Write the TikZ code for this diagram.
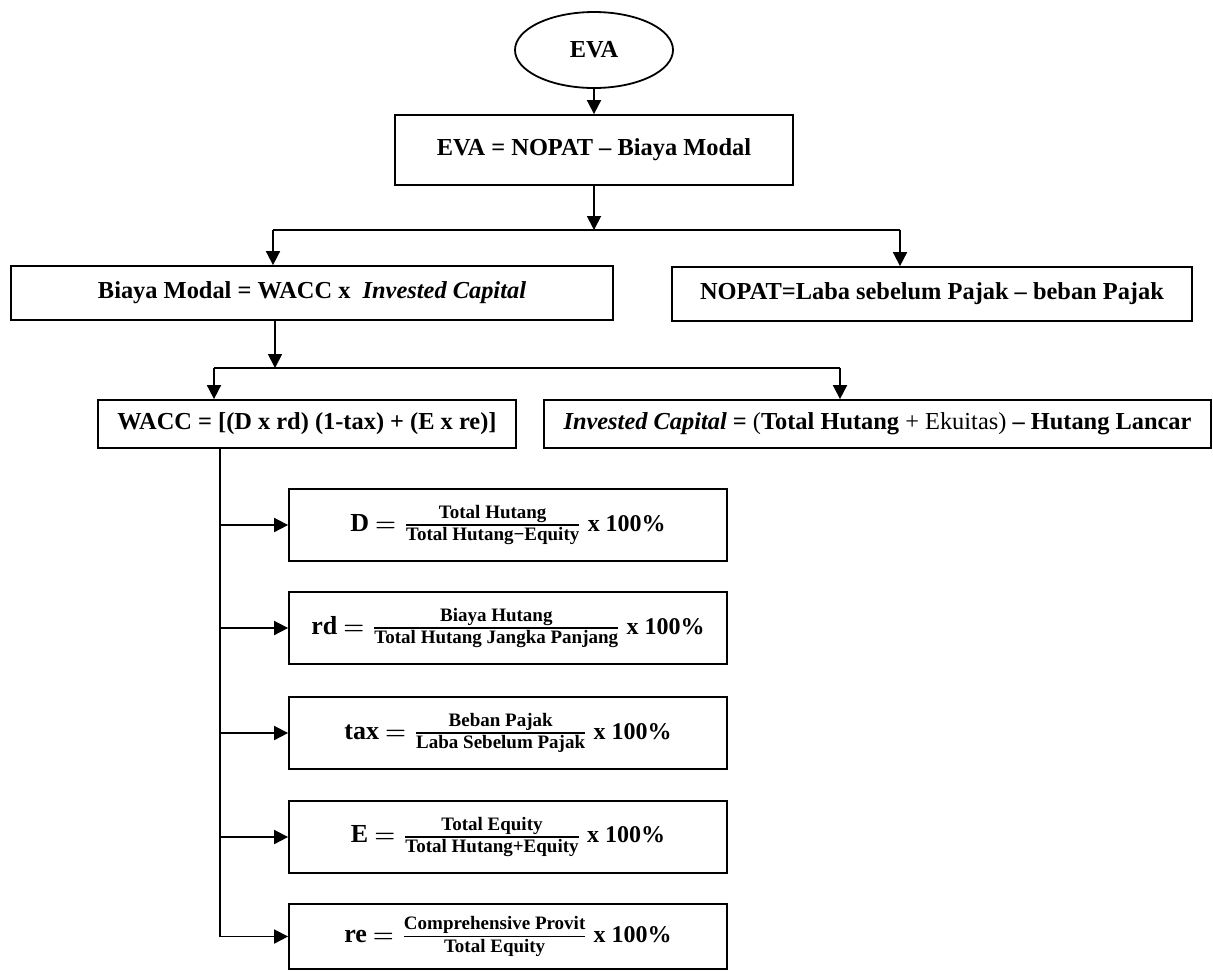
\documentclass[tikz,border=0pt]{standalone}
\usepackage{amsmath}
\usepackage{fontspec}
\setmainfont{Liberation Serif}
\usetikzlibrary{shapes.geometric,arrows.meta}
\newcommand{\frtext}[1]{\mbox{\fontsize{9.5}{11}\selectfont\bfseries #1}}
\newcommand{\ratio}[3]{{\fontsize{13}{15}\selectfont #1} $= \genfrac{}{}{0.9pt}{}{\frtext{#2}}{\frtext{#3}}$ x 100\%}
\begin{document}
\begin{tikzpicture}[x=0.5pt,y=-0.5pt,
  box/.style={draw,line width=0.9pt,inner sep=0pt,font=\fontsize{12.2}{15}\selectfont\bfseries},
  formbox/.style={box,minimum width=219pt,minimum height=36pt,font=\fontsize{12}{15}\selectfont\bfseries\boldmath},
  arr/.style={line width=0.9pt,-{Triangle[length=7pt,width=7pt]}},
  link/.style={line width=0.9pt}]
\useasboundingbox (0,0) rectangle (1213,971);
% top of the chart
\node[box,ellipse,minimum width=79pt,minimum height=38pt] (eva) at (594,50) {EVA};
\node[box,minimum width=199pt,minimum height=35pt] (evabox) at (594,150) {EVA = NOPAT – Biaya Modal};
\node[box,minimum width=301pt,minimum height=27pt] (biaya) at (312,293) {Biaya Modal = WACC x \ \textit{Invested Capital}};
\node[box,minimum width=260pt,minimum height=27pt] (nopat) at (932,294) {NOPAT=Laba sebelum Pajak – beban Pajak};
\node[box,minimum width=209pt,minimum height=24pt] (wacc) at (307,424) {WACC = [(D x rd) (1-tax) + (E x re)]};
\node[box,minimum width=333.5pt,minimum height=24pt] (invcap) at (877.5,424) {\textit{Invested Capital} = {\mdseries(}Total Hutang {\mdseries + Ekuitas)} – Hutang Lancar};
% formula boxes
\node[formbox] (fd) at (508,525) {\ratio{D}{Total Hutang}{Total Hutang−Equity}};
\node[formbox] (frd) at (508,628) {\ratio{rd}{Biaya Hutang}{Total Hutang Jangka Panjang}};
\node[formbox] (ftax) at (508,733) {\ratio{tax}{Beban Pajak}{Laba Sebelum Pajak}};
\node[formbox] (fe) at (508,837) {\ratio{E}{Total Equity}{Total Hutang+Equity}};
\node[formbox,minimum height=32.5pt] (fre) at (508,936.5) {\ratio{re}{Comprehensive Provit}{Total Equity}};
% connectors
\coordinate (s1l) at (273,230);
\coordinate (s1r) at (900,230);
\coordinate (s2) at (275,368);
\coordinate (s2l) at (214,368);
\coordinate (s2r) at (840,368);
\coordinate (trunk) at (220,0);
\draw[arr] (eva) -- (evabox);
\draw[arr] (evabox) -- (evabox.south |- s1l);
\draw[link] (s1l) -- (s1r);
\draw[arr] (s1l) -- (s1l |- biaya.north);
\draw[arr] (s1r) -- (s1r |- nopat.north);
\draw[arr] (s2 |- biaya.south) -- (s2);
\draw[link] (s2l) -- (s2r);
\draw[arr] (s2l) -- (s2l |- wacc.north);
\draw[arr] (s2r) -- (s2r |- invcap.north);
\draw[arr] (trunk |- wacc.south) |- (fre.west);
\foreach \f in {fd,frd,ftax,fe}
  \draw[arr] (trunk |- \f.west) -- (\f.west);
\end{tikzpicture}
\end{document}
